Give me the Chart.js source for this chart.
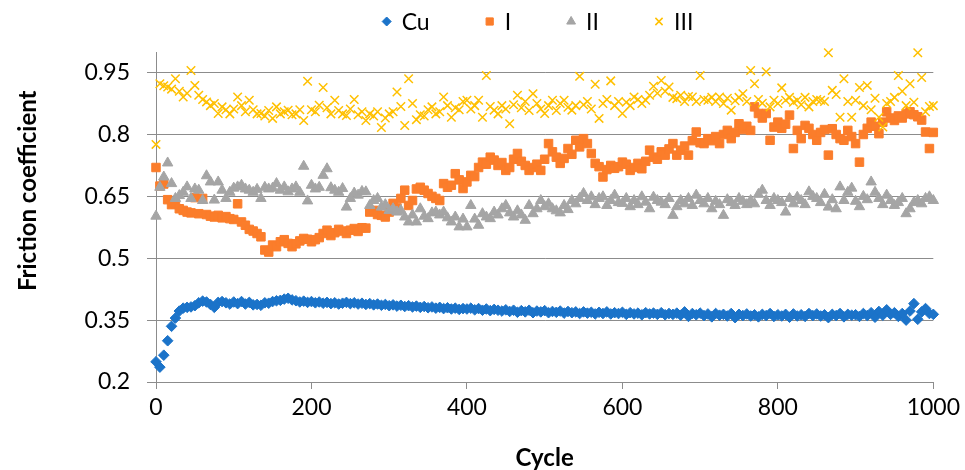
<!DOCTYPE html>
<html>
<head>
<meta charset="utf-8">
<script src="https://cdn.jsdelivr.net/npm/chart.js@4.4.1/dist/chart.umd.min.js"></script>
<style>
html,body{margin:0;padding:0;background:#ffffff;}
#wrap{width:965px;height:470px;}
</style>
</head>
<body>
<div id="wrap"><canvas id="c" width="965" height="470"></canvas></div>
<script>
// ---------- data ----------
const CYCLES = [
  0,5,10,15,20,25,30,35,40,45,
  50,55,60,65,70,75,80,85,90,95,
  100,105,110,115,120,125,130,135,140,145,
  150,155,160,165,170,175,180,185,190,195,
  200,205,210,215,220,225,230,235,240,245,
  250,255,260,265,270,275,280,285,290,295,
  300,305,310,315,320,325,330,335,340,345,
  350,355,360,365,370,375,380,385,390,395,
  400,405,410,415,420,425,430,435,440,445,
  450,455,460,465,470,475,480,485,490,495,
  500,505,510,515,520,525,530,535,540,545,
  550,555,560,565,570,575,580,585,590,595,
  600,605,610,615,620,625,630,635,640,645,
  650,655,660,665,670,675,680,685,690,695,
  700,705,710,715,720,725,730,735,740,745,
  750,755,760,765,770,775,780,785,790,795,
  800,805,810,815,820,825,830,835,840,845,
  850,855,860,865,870,875,880,885,890,895,
  900,905,910,915,920,925,930,935,940,945,
  950,955,960,965,970,975,980,985,990,995,
  1000
];

const CU = [
  0.249,0.236,0.265,0.300,0.335,0.355,0.372,0.379,0.381,0.382,
  0.385,0.392,0.396,0.394,0.388,0.381,0.393,0.395,0.392,0.389,
  0.394,0.390,0.395,0.389,0.393,0.387,0.388,0.386,0.392,0.391,
  0.395,0.397,0.398,0.401,0.403,0.399,0.397,0.394,0.396,0.393,
  0.395,0.392,0.394,0.391,0.393,0.390,0.392,0.389,0.391,0.393,
  0.390,0.392,0.389,0.391,0.388,0.390,0.387,0.389,0.386,0.388,
  0.385,0.387,0.384,0.386,0.383,0.385,0.382,0.384,0.381,0.383,
  0.380,0.382,0.379,0.381,0.378,0.380,0.377,0.379,0.376,0.378,
  0.377,0.379,0.375,0.378,0.374,0.377,0.373,0.376,0.374,0.372,
  0.375,0.371,0.374,0.369,0.373,0.370,0.374,0.368,0.372,0.370,
  0.373,0.368,0.371,0.369,0.372,0.367,0.371,0.368,0.370,0.366,
  0.370,0.367,0.369,0.365,0.369,0.366,0.370,0.365,0.368,0.366,
  0.369,0.364,0.368,0.365,0.367,0.363,0.368,0.365,0.367,0.364,
  0.368,0.363,0.366,0.364,0.367,0.362,0.370,0.359,0.366,0.363,
  0.367,0.361,0.365,0.358,0.366,0.362,0.364,0.360,0.366,0.356,
  0.364,0.361,0.365,0.360,0.363,0.358,0.364,0.361,0.366,0.359,
  0.363,0.360,0.364,0.357,0.365,0.360,0.363,0.359,0.366,0.361,
  0.365,0.360,0.363,0.356,0.364,0.361,0.366,0.358,0.364,0.362,
  0.363,0.359,0.366,0.361,0.368,0.357,0.371,0.362,0.375,0.364,
  0.368,0.359,0.366,0.350,0.372,0.390,0.352,0.370,0.378,0.366,
  0.364
];

const SERIES_I = [
  0.720,0.675,0.680,0.642,0.630,0.632,0.620,0.616,0.612,0.610,
  0.647,0.608,0.645,0.606,0.602,0.600,0.604,0.598,0.601,0.596,
  0.594,0.632,0.588,0.580,0.570,0.566,0.560,0.552,0.520,0.515,
  0.532,0.528,0.540,0.545,0.536,0.528,0.535,0.542,0.548,0.546,
  0.540,0.545,0.550,0.560,0.568,0.555,0.562,0.570,0.566,0.560,
  0.568,0.572,0.565,0.574,0.573,0.612,0.616,0.606,0.604,0.600,
  0.612,0.633,0.622,0.645,0.665,0.628,0.640,0.668,0.672,0.665,
  0.657,0.650,0.645,0.640,0.681,0.672,0.677,0.705,0.690,0.669,
  0.685,0.701,0.698,0.720,0.733,0.728,0.745,0.738,0.725,0.732,
  0.713,0.720,0.740,0.754,0.735,0.725,0.713,0.720,0.728,0.713,
  0.740,0.778,0.758,0.745,0.730,0.742,0.766,0.752,0.786,0.770,
  0.790,0.778,0.754,0.730,0.722,0.697,0.715,0.725,0.718,0.722,
  0.733,0.728,0.713,0.720,0.730,0.717,0.735,0.762,0.745,0.740,
  0.758,0.750,0.765,0.778,0.750,0.762,0.772,0.750,0.785,0.806,
  0.780,0.778,0.790,0.785,0.795,0.778,0.800,0.810,0.790,0.805,
  0.826,0.812,0.820,0.810,0.867,0.851,0.840,0.851,0.786,0.818,
  0.830,0.815,0.825,0.847,0.766,0.810,0.790,0.822,0.815,0.800,
  0.786,0.805,0.812,0.750,0.814,0.800,0.790,0.786,0.810,0.795,
  0.778,0.733,0.800,0.815,0.830,0.820,0.802,0.830,0.855,0.840,
  0.834,0.845,0.840,0.850,0.855,0.848,0.843,0.835,0.806,0.766,
  0.805
];

const SERIES_II = [
  0.602,0.672,0.697,0.731,0.681,0.645,0.652,0.660,0.673,0.645,
  0.668,0.665,0.640,0.700,0.685,0.641,0.685,0.665,0.645,0.660,
  0.670,0.673,0.677,0.668,0.665,0.660,0.667,0.645,0.672,0.668,
  0.670,0.681,0.665,0.673,0.661,0.668,0.673,0.660,0.723,0.639,
  0.677,0.668,0.672,0.701,0.717,0.671,0.665,0.660,0.669,0.624,
  0.645,0.658,0.653,0.662,0.661,0.628,0.640,0.645,0.624,0.630,
  0.616,0.620,0.612,0.616,0.600,0.588,0.605,0.588,0.620,0.602,
  0.596,0.610,0.612,0.605,0.612,0.598,0.588,0.600,0.576,0.595,
  0.576,0.628,0.595,0.580,0.608,0.600,0.596,0.612,0.605,0.620,
  0.628,0.610,0.600,0.615,0.605,0.592,0.628,0.608,0.620,0.640,
  0.625,0.632,0.620,0.615,0.610,0.628,0.618,0.640,0.632,0.645,
  0.657,0.640,0.649,0.630,0.645,0.649,0.628,0.640,0.653,0.635,
  0.633,0.645,0.625,0.640,0.630,0.649,0.636,0.620,0.648,0.640,
  0.636,0.630,0.645,0.604,0.625,0.640,0.632,0.645,0.628,0.653,
  0.640,0.632,0.645,0.620,0.638,0.630,0.604,0.642,0.635,0.628,
  0.645,0.638,0.630,0.640,0.632,0.655,0.665,0.640,0.628,0.645,
  0.640,0.635,0.612,0.645,0.632,0.648,0.640,0.630,0.661,0.650,
  0.645,0.635,0.655,0.624,0.642,0.620,0.673,0.640,0.660,0.670,
  0.638,0.625,0.650,0.642,0.685,0.660,0.645,0.630,0.653,0.640,
  0.628,0.635,0.645,0.608,0.620,0.635,0.640,0.632,0.645,0.649,
  0.640
];

const SERIES_III = [
  0.776,0.923,0.918,0.915,0.910,0.935,0.905,0.891,0.900,0.955,
  0.919,0.895,0.885,0.879,0.870,0.875,0.851,0.867,0.860,0.850,
  0.862,0.891,0.870,0.855,0.883,0.860,0.850,0.851,0.845,0.858,
  0.839,0.867,0.850,0.855,0.859,0.848,0.850,0.860,0.834,0.929,
  0.860,0.855,0.871,0.914,0.865,0.850,0.883,0.858,0.850,0.846,
  0.862,0.885,0.848,0.855,0.834,0.850,0.845,0.855,0.817,0.840,
  0.850,0.855,0.903,0.868,0.822,0.935,0.875,0.836,0.848,0.845,
  0.860,0.867,0.850,0.855,0.891,0.870,0.842,0.865,0.860,0.880,
  0.883,0.862,0.870,0.883,0.842,0.943,0.868,0.859,0.850,0.870,
  0.862,0.826,0.872,0.895,0.865,0.880,0.858,0.899,0.875,0.862,
  0.851,0.870,0.883,0.858,0.875,0.883,0.866,0.859,0.870,0.941,
  0.872,0.880,0.862,0.922,0.839,0.875,0.885,0.930,0.870,0.880,
  0.851,0.878,0.870,0.891,0.885,0.875,0.883,0.895,0.917,0.900,
  0.931,0.905,0.915,0.890,0.887,0.895,0.880,0.892,0.891,0.880,
  0.943,0.885,0.883,0.890,0.880,0.891,0.875,0.888,0.859,0.882,
  0.890,0.899,0.880,0.955,0.923,0.885,0.876,0.952,0.867,0.883,
  0.875,0.913,0.883,0.890,0.878,0.883,0.872,0.890,0.867,0.880,
  0.885,0.883,0.880,0.998,0.907,0.897,0.842,0.935,0.880,0.842,
  0.883,0.914,0.870,0.919,0.860,0.888,0.842,0.818,0.875,0.880,
  0.890,0.943,0.905,0.870,0.923,0.878,0.998,0.938,0.855,0.868,
  0.870
];

const SERIES_NAMES = ['Cu', 'I', 'II', 'III'];
const X_TICKS = [0, 200, 400, 600, 800, 1000];
const Y_TICKS = [0.2, 0.35, 0.5, 0.65, 0.8, 0.95];
const X_TITLE = 'Cycle';
const Y_TITLE = 'Friction coefficient';

// ---------- styling ----------
const FONT = "Lato, 'Open Sans', sans-serif";
const AXIS_GRAY = '#8c8c8c';
const COLORS = ['#1b73c9', '#fb7d2b', '#a5a5a5', '#ffc000'];
const STYLES = [
  {pointStyle: 'rectRot',  pointRadius: 5.3, borderWidth: 1},
  {pointStyle: 'rect',     pointRadius: 6,   borderWidth: 1},
  {pointStyle: 'triangle', pointRadius: 6,   borderWidth: 1},
  {pointStyle: 'crossRot', pointRadius: 6,   borderWidth: 1.5}
];

function toPoints(values) {
  return values.map((v, i) => ({x: CYCLES[i], y: v}));
}

const ALL_VALUES = [CU, SERIES_I, SERIES_II, SERIES_III];
const datasets = SERIES_NAMES.map((name, i) => ({
  label: name,
  data: toPoints(ALL_VALUES[i]),
  pointStyle: STYLES[i].pointStyle,
  pointRadius: STYLES[i].pointRadius,
  pointHoverRadius: STYLES[i].pointRadius,
  pointBorderWidth: STYLES[i].borderWidth,
  borderWidth: STYLES[i].borderWidth,
  backgroundColor: COLORS[i],
  borderColor: COLORS[i],
  showLine: false,
  clip: false,
  order: SERIES_NAMES.length - i
}));

// legend drawn in the Excel-like spaced layout
const spacedLegend = {
  id: 'spacedLegend',
  afterDraw(chart) {
    const ctx = chart.ctx;
    ctx.save();
    ctx.font = '23px ' + FONT;
    ctx.textBaseline = 'middle';
    ctx.textAlign = 'left';
    const y = 21.5;
    const markerToText = 15;
    const itemGap = 60;
    const ds = chart.data.datasets;
    const widths = ds.map(d => ctx.measureText(d.label).width);
    let total = 0;
    widths.forEach((w, i) => { total += markerToText + w + (i < widths.length - 1 ? itemGap : 0); });
    let x = 540 - total / 2;
    ds.forEach((d, i) => {
      ctx.fillStyle = d.backgroundColor;
      ctx.strokeStyle = d.borderColor;
      ctx.lineWidth = d.pointBorderWidth;
      Chart.helpers.drawPoint(ctx, {
        pointStyle: d.pointStyle, radius: d.pointRadius * 0.85,
        borderWidth: d.pointBorderWidth, rotation: 0
      }, x, y);
      ctx.fillStyle = '#000000';
      ctx.fillText(d.label, x + markerToText, y + 1);
      x += markerToText + widths[i] + itemGap;
    });
    ctx.restore();
  }
};

Chart.defaults.font.family = FONT;
Chart.defaults.color = '#000000';

new Chart(document.getElementById('c'), {
  type: 'scatter',
  data: {datasets},
  options: {
    responsive: false,
    devicePixelRatio: 1,
    animation: false,
    events: [],
    layout: {padding: {top: 52, right: 3, left: 0, bottom: 0}},
    plugins: {
      legend: {display: false},
      tooltip: {enabled: false}
    },
    scales: {
      x: {
        type: 'linear',
        min: 0, max: 1000,
        afterBuildTicks: s => { s.ticks = X_TICKS.map(v => ({value: v})); },
        afterFit: s => { s.height = 88; },
        ticks: {font: {size: 23}, padding: 5, maxRotation: 0, callback: v => String(v)},
        grid: {drawOnChartArea: false, drawTicks: true, tickLength: 7, tickColor: AXIS_GRAY, color: AXIS_GRAY},
        border: {display: true, color: AXIS_GRAY, width: 1},
        title: {display: true, text: X_TITLE, font: {size: 24, weight: 'bold', lineHeight: 1.0}, padding: {top: 0, bottom: 0}}
      },
      y: {
        type: 'linear',
        min: 0.2, max: 1.0,
        afterBuildTicks: s => { s.ticks = Y_TICKS.map(v => ({value: v})); },
        afterFit: s => { s.width = 156; },
        ticks: {font: {size: 23}, padding: 17, callback: v => String(v)},
        grid: {drawOnChartArea: true, drawTicks: true, tickLength: 9, color: AXIS_GRAY, tickColor: AXIS_GRAY, lineWidth: 1},
        border: {display: true, color: AXIS_GRAY, width: 1},
        title: {display: true, text: '         ' + Y_TITLE, font: {size: 24, weight: 'bold', lineHeight: 1.1}, padding: {top: 15, bottom: 0}}
      }
    }
  },
  plugins: [spacedLegend]
});
</script>
</body>
</html>
